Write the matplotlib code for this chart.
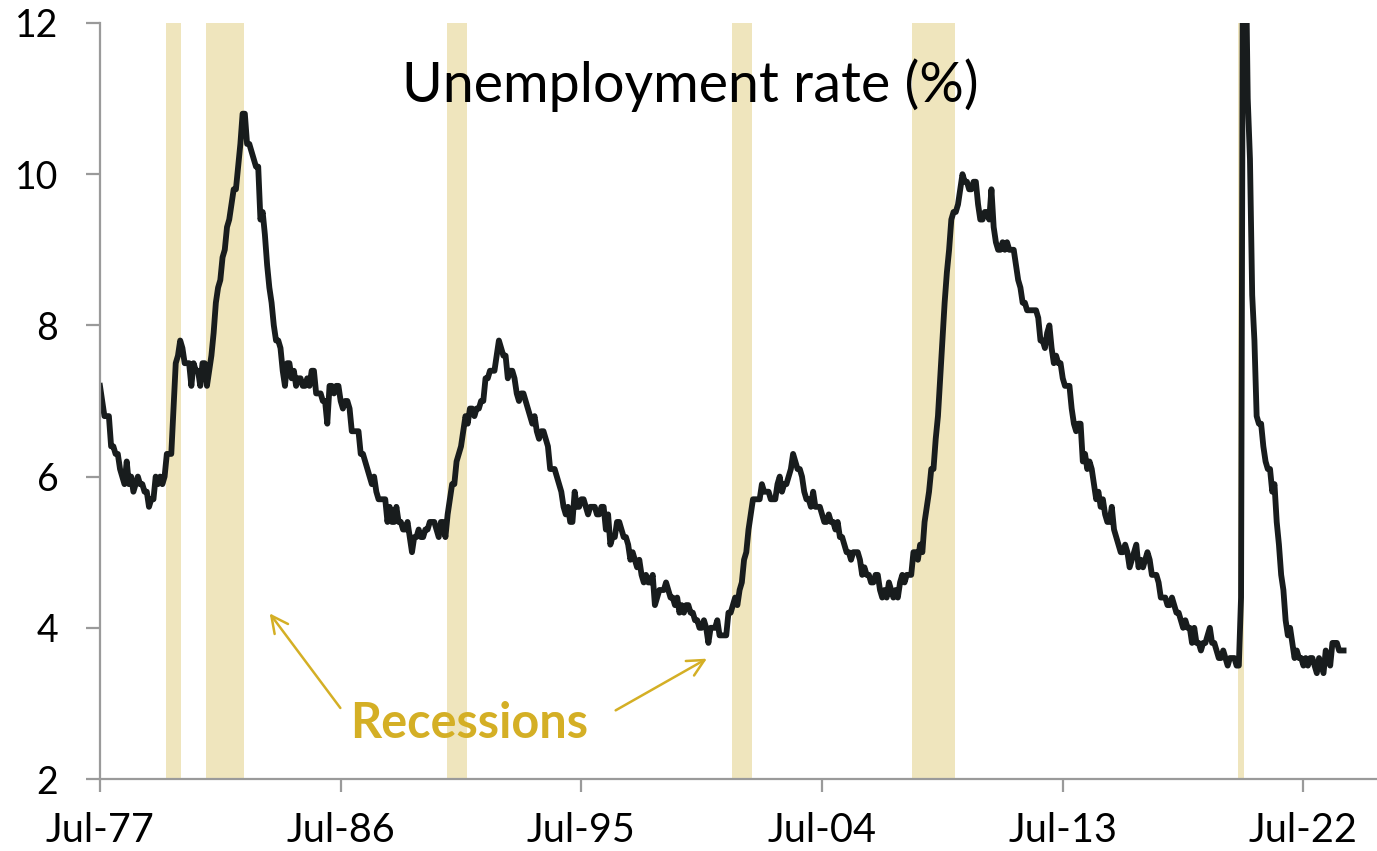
import numpy as np
import matplotlib
matplotlib.use('Agg')
import matplotlib.pyplot as plt

plt.rcParams['font.family'] = ['Lato', 'DejaVu Sans']

# monthly unemployment rate (%), Jul 1977 .. Jan 2024
u1977 = [7.2, 7.0, 6.8, 6.8, 6.8, 6.4]
u1978 = [6.4, 6.3, 6.3, 6.1, 6.0, 5.9, 6.2, 5.9, 6.0, 5.8, 5.9, 6.0]
u1979 = [5.9, 5.9, 5.8, 5.8, 5.6, 5.7, 5.7, 6.0, 5.9, 6.0, 5.9, 6.0]
u1980 = [6.3, 6.3, 6.3, 6.9, 7.5, 7.6, 7.8, 7.7, 7.5, 7.5, 7.5, 7.2]
u1981 = [7.5, 7.4, 7.4, 7.2, 7.5, 7.5, 7.2, 7.4, 7.6, 7.9, 8.3, 8.5]
u1982 = [8.6, 8.9, 9.0, 9.3, 9.4, 9.6, 9.8, 9.8, 10.1, 10.4, 10.8, 10.8]
u1983 = [10.4, 10.4, 10.3, 10.2, 10.1, 10.1, 9.4, 9.5, 9.2, 8.8, 8.5, 8.3]
u1984 = [8.0, 7.8, 7.8, 7.7, 7.4, 7.2, 7.5, 7.5, 7.3, 7.4, 7.2, 7.3]
u1985 = [7.3, 7.2, 7.2, 7.3, 7.2, 7.4, 7.4, 7.1, 7.1, 7.1, 7.0, 7.0]
u1986 = [6.7, 7.2, 7.2, 7.1, 7.2, 7.2, 7.0, 6.9, 7.0, 7.0, 6.9, 6.6]
u1987 = [6.6, 6.6, 6.6, 6.3, 6.3, 6.2, 6.1, 6.0, 5.9, 6.0, 5.8, 5.7]
u1988 = [5.7, 5.7, 5.7, 5.4, 5.6, 5.4, 5.4, 5.6, 5.4, 5.4, 5.3, 5.3]
u1989 = [5.4, 5.2, 5.0, 5.2, 5.2, 5.3, 5.2, 5.2, 5.3, 5.3, 5.4, 5.4]
u1990 = [5.4, 5.3, 5.2, 5.4, 5.4, 5.2, 5.5, 5.7, 5.9, 5.9, 6.2, 6.3]
u1991 = [6.4, 6.6, 6.8, 6.7, 6.9, 6.9, 6.8, 6.9, 6.9, 7.0, 7.0, 7.3]
u1992 = [7.3, 7.4, 7.4, 7.4, 7.6, 7.8, 7.7, 7.6, 7.6, 7.3, 7.4, 7.4]
u1993 = [7.3, 7.1, 7.0, 7.1, 7.1, 7.0, 6.9, 6.8, 6.7, 6.8, 6.6, 6.5]
u1994 = [6.6, 6.6, 6.5, 6.4, 6.1, 6.1, 6.1, 6.0, 5.9, 5.8, 5.6, 5.5]
u1995 = [5.6, 5.4, 5.4, 5.8, 5.6, 5.6, 5.7, 5.7, 5.6, 5.5, 5.6, 5.6]
u1996 = [5.6, 5.5, 5.5, 5.6, 5.6, 5.3, 5.5, 5.1, 5.2, 5.2, 5.4, 5.4]
u1997 = [5.3, 5.2, 5.2, 5.1, 4.9, 5.0, 4.9, 4.8, 4.9, 4.7, 4.6, 4.7]
u1998 = [4.6, 4.6, 4.7, 4.3, 4.4, 4.5, 4.5, 4.5, 4.6, 4.5, 4.4, 4.4]
u1999 = [4.3, 4.4, 4.2, 4.3, 4.2, 4.3, 4.3, 4.2, 4.2, 4.1, 4.1, 4.0]
u2000 = [4.0, 4.1, 4.0, 3.8, 4.0, 4.0, 4.0, 4.1, 3.9, 3.9, 3.9, 3.9]
u2001 = [4.2, 4.2, 4.3, 4.4, 4.3, 4.5, 4.6, 4.9, 5.0, 5.3, 5.5, 5.7]
u2002 = [5.7, 5.7, 5.7, 5.9, 5.8, 5.8, 5.8, 5.7, 5.7, 5.7, 5.9, 6.0]
u2003 = [5.8, 5.9, 5.9, 6.0, 6.1, 6.3, 6.2, 6.1, 6.1, 6.0, 5.8, 5.7]
u2004 = [5.7, 5.6, 5.8, 5.6, 5.6, 5.6, 5.5, 5.4, 5.4, 5.5, 5.4, 5.4]
u2005 = [5.3, 5.4, 5.2, 5.2, 5.1, 5.0, 5.0, 4.9, 5.0, 5.0, 5.0, 4.9]
u2006 = [4.7, 4.8, 4.7, 4.7, 4.6, 4.6, 4.7, 4.7, 4.5, 4.4, 4.5, 4.4]
u2007 = [4.6, 4.5, 4.4, 4.5, 4.4, 4.6, 4.7, 4.6, 4.7, 4.7, 4.7, 5.0]
u2008 = [5.0, 4.9, 5.1, 5.0, 5.4, 5.6, 5.8, 6.1, 6.1, 6.5, 6.8, 7.3]
u2009 = [7.8, 8.3, 8.7, 9.0, 9.4, 9.5, 9.5, 9.6, 9.8, 10.0, 9.9, 9.9]
u2010 = [9.8, 9.8, 9.9, 9.9, 9.6, 9.4, 9.4, 9.5, 9.5, 9.4, 9.8, 9.3]
u2011 = [9.1, 9.0, 9.0, 9.1, 9.0, 9.1, 9.0, 9.0, 9.0, 8.8, 8.6, 8.5]
u2012 = [8.3, 8.3, 8.2, 8.2, 8.2, 8.2, 8.2, 8.1, 7.8, 7.8, 7.7, 7.9]
u2013 = [8.0, 7.7, 7.5, 7.6, 7.5, 7.5, 7.3, 7.2, 7.2, 7.2, 6.9, 6.7]
u2014 = [6.6, 6.7, 6.7, 6.2, 6.3, 6.1, 6.2, 6.1, 5.9, 5.7, 5.8, 5.6]
u2015 = [5.7, 5.5, 5.4, 5.4, 5.6, 5.3, 5.2, 5.1, 5.0, 5.0, 5.1, 5.0]
u2016 = [4.8, 4.9, 5.0, 5.1, 4.8, 4.9, 4.8, 4.9, 5.0, 4.9, 4.7, 4.7]
u2017 = [4.7, 4.6, 4.4, 4.4, 4.4, 4.3, 4.3, 4.4, 4.3, 4.2, 4.2, 4.1]
u2018 = [4.0, 4.1, 4.0, 4.0, 3.8, 4.0, 3.8, 3.8, 3.7, 3.8, 3.8, 3.9]
u2019 = [4.0, 3.8, 3.8, 3.7, 3.6, 3.6, 3.7, 3.6, 3.5, 3.6, 3.6, 3.6]
u2020 = [3.5, 3.5, 4.4, 14.8, 13.2, 11.0, 10.2, 8.4, 7.8, 6.8, 6.7, 6.7]
u2021 = [6.4, 6.2, 6.1, 6.1, 5.8, 5.9, 5.4, 5.1, 4.7, 4.5, 4.1, 3.9]
u2022 = [4.0, 3.8, 3.6, 3.7, 3.6, 3.6, 3.5, 3.6, 3.5, 3.6, 3.6, 3.5]
u2023 = [3.4, 3.6, 3.5, 3.4, 3.7, 3.6, 3.5, 3.8, 3.8, 3.8, 3.7, 3.7]
u2024 = [3.7]

rate = (u1977 + u1978 + u1979 + u1980 + u1981 + u1982 + u1983 + u1984 + u1985
        + u1986 + u1987 + u1988 + u1989 + u1990 + u1991 + u1992 + u1993 + u1994
        + u1995 + u1996 + u1997 + u1998 + u1999 + u2000 + u2001 + u2002 + u2003
        + u2004 + u2005 + u2006 + u2007 + u2008 + u2009 + u2010 + u2011 + u2012
        + u2013 + u2014 + u2015 + u2016 + u2017 + u2018 + u2019 + u2020 + u2021
        + u2022 + u2023 + u2024)

# NBER recessions (start, end) as (year, month)
recessions = [((1980, 1), (1980, 7)), ((1981, 7), (1982, 11)),
              ((1990, 7), (1991, 3)), ((2001, 3), (2001, 11)),
              ((2007, 12), (2009, 6)), ((2020, 2), (2020, 4))]

tick_labels = ['Jul-77', 'Jul-86', 'Jul-95', 'Jul-04', 'Jul-13', 'Jul-22']


def month_idx(y, m):
    return (y - 1977) * 12 + (m - 7)


x = np.arange(len(rate))

fig = plt.figure(figsize=(13.77, 8.51), dpi=100)
ax = fig.add_axes([0.0726, 0.0846, 0.9274, 0.8884])

for (y0, m0), (y1, m1) in recessions:
    ax.axvspan(month_idx(y0, m0) - 0.5, month_idx(y1, m1) + 0.5,
               color='#EFE5BD', lw=0, zorder=1)

ax.plot(x, rate, color='#181c1d', lw=4.2, zorder=3)

ax.set_xlim(0, 573)
ax.set_ylim(2, 12)
ax.set_yticks([2, 4, 6, 8, 10, 12])
ax.set_xticks([0, 108, 216, 324, 432, 540])
ax.set_xticklabels(tick_labels)

for s in ['top', 'right']:
    ax.spines[s].set_visible(False)
for s in ['left', 'bottom']:
    ax.spines[s].set_color('#9a9a9a')
    ax.spines[s].set_linewidth(1.6)
    ax.spines[s].set_zorder(4)

ax.tick_params(axis='y', direction='out', length=10, width=1.6,
               color='#9a9a9a', labelsize=27, pad=20)
ax.tick_params(axis='x', direction='out', length=9, width=1.6,
               color='#9a9a9a', labelsize=28.5, pad=15)

ax.text(265, 11.18, 'Unemployment rate (%)', fontsize=40, ha='center',
        va='center', color='black', zorder=5)

gold = '#D4AF25'
ax.text(165.5, 2.74, 'Recessions', fontsize=35, fontweight='bold',
        color=gold, ha='center', va='center', zorder=5)
ax.annotate('', xy=(75.4, 4.22), xytext=(108.6, 2.91),
            arrowprops=dict(arrowstyle='->', color=gold, lw=1.8,
                            mutation_scale=30), zorder=5)
ax.annotate('', xy=(273.4, 3.61), xytext=(230.3, 2.89),
            arrowprops=dict(arrowstyle='->', color=gold, lw=1.8,
                            mutation_scale=30), zorder=5)

plt.savefig('out.png', dpi=100)
